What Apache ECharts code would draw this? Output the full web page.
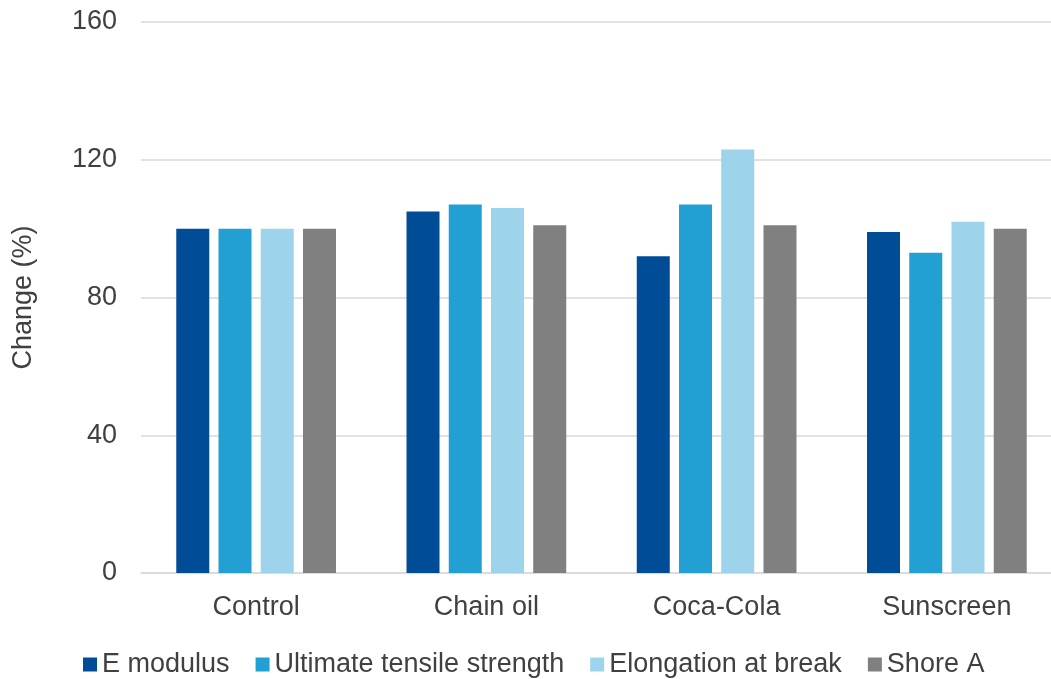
<!DOCTYPE html>
<html><head><meta charset="utf-8">
<script src="https://cdn.jsdelivr.net/npm/echarts@6/dist/echarts.min.js"></script>
<style>html,body{margin:0;padding:0;background:#fff}#c{width:1051px;height:679px}</style>
</head><body><div id="c"></div>
<script>
const categories = ['Control', 'Chain oil', 'Coca-Cola', 'Sunscreen'];
const eModulus = [100, 105, 92, 99];
const uts = [100, 107, 107, 93];
const elongation = [100, 106, 123, 102];
const shoreA = [100, 101, 101, 100];
const seriesNames = ['E modulus', 'Ultimate tensile strength', 'Elongation at break', 'Shore A'];
const colors = ['#004C97', '#22A0D4', '#9DD4EB', '#808080'];
const yTicks = [0, 40, 80, 120, 160];

const font = 'Liberation Sans, Arial, Helvetica, sans-serif';
const chart = echarts.init(document.getElementById('c'), null, {renderer: 'canvas'});
const data = [eModulus, uts, elongation, shoreA];
chart.setOption({
  animation: false,
  color: colors,
  grid: {left: 141, top: 22, right: -11, bottom: 106, containLabel: false, outerBoundsMode: 'none'},
  legend: {
    top: 646, left: 78,
    itemWidth: 14, itemHeight: 14, itemGap: 26,
    icon: 'rect',
    textStyle: {fontFamily: font, fontSize: 27, color: '#404040'},
    data: seriesNames
  },
  xAxis: {
    type: 'category', data: categories,
    axisLine: {lineStyle: {color: '#d9d9d9', width: 1.5}},
    axisTick: {show: false},
    axisLabel: {fontFamily: font, fontSize: 27, color: '#404040', margin: 21}
  },
  yAxis: {
    type: 'value', min: 0, max: 160, interval: 40,
    name: 'Change (%)', nameLocation: 'middle', nameGap: 104,
    nameTextStyle: {fontFamily: font, fontSize: 27, color: '#404040'},
    axisLine: {show: false}, axisTick: {show: false},
    axisLabel: {fontFamily: font, fontSize: 27, color: '#404040', margin: 24},
    splitLine: {lineStyle: {color: '#d9d9d9', width: 1.5}}
  },
  series: seriesNames.map((n, i) => ({
    name: n, type: 'bar', data: data[i], barWidth: 33, barGap: '28%',
    itemStyle: {color: colors[i]}
  }))
});
</script></body></html>
